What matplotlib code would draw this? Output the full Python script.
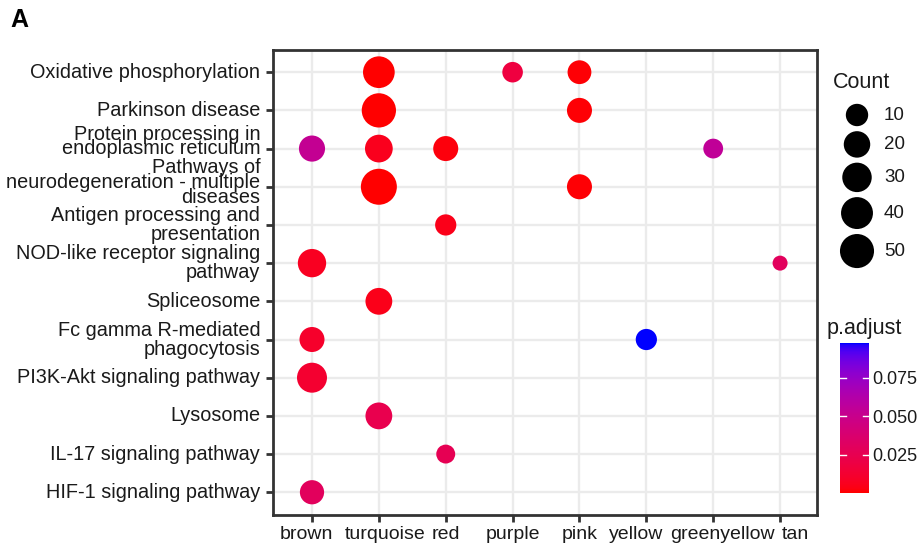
import numpy as np
import matplotlib
matplotlib.use("Agg")
import matplotlib.pyplot as plt
from matplotlib.colors import ListedColormap, Normalize
from matplotlib.transforms import ScaledTranslation

plt.rcParams['font.family'] = ['Liberation Sans', 'DejaVu Sans']

modules = ["brown", "turquoise", "red", "purple", "pink", "yellow",
           "greenyellow", "tan"]
pathways = ["Oxidative phosphorylation",
            "Parkinson disease",
            "Protein processing in\nendoplasmic reticulum",
            "Pathways of\nneurodegeneration - multiple\ndiseases",
            "Antigen processing and\npresentation",
            "NOD-like receptor signaling\npathway",
            "Spliceosome",
            "Fc gamma R-mediated\nphagocytosis",
            "PI3K-Akt signaling pathway",
            "Lysosome",
            "IL-17 signaling pathway",
            "HIF-1 signaling pathway"]

# one entry per dot
pt_pathway = [0, 0, 0, 1, 1, 2, 2, 2, 2, 3, 3, 4, 5, 5, 6, 7, 7, 8, 9, 10, 11]
pt_module = ["turquoise", "purple", "pink", "turquoise", "pink",
             "brown", "turquoise", "red", "greenyellow",
             "turquoise", "pink", "red", "brown", "tan", "turquoise",
             "brown", "yellow", "brown", "turquoise", "red", "brown"]
pt_count = [39, 7, 13, 51, 16, 19, 24, 16, 6, 60, 16, 8, 26, 3, 21,
            16, 8, 32, 21, 5, 14]
pt_padj = [0.0002, 0.018, 0.001, 0.0001, 0.001, 0.053, 0.006, 0.002,
           0.055, 0.00005, 0.001, 0.005, 0.007, 0.030, 0.005,
           0.010, 0.0977, 0.012, 0.024, 0.026, 0.030]

count_breaks = [10, 20, 30, 40, 50]
padj_ticks = [0.025, 0.050, 0.075]


# red -> blue gradient interpolated in Lab, like ggplot
def to_lab(rgb):
    rgb = np.asarray(rgb, float)
    lin = np.where(rgb <= 0.04045, rgb / 12.92, ((rgb + 0.055) / 1.055) ** 2.4)
    m = np.array([[0.4124, 0.3576, 0.1805],
                  [0.2126, 0.7152, 0.0722],
                  [0.0193, 0.1192, 0.9505]])
    xyz = m @ lin / np.array([0.95047, 1.0, 1.08883])
    f = np.where(xyz > 0.008856, np.cbrt(xyz), 7.787 * xyz + 16 / 116)
    return np.array([116 * f[1] - 16, 500 * (f[0] - f[1]), 200 * (f[1] - f[2])])


def from_lab(lab):
    L, a, b = lab
    fy = (L + 16) / 116
    f = np.array([fy + a / 500, fy, fy - b / 200])
    xyz = np.where(f ** 3 > 0.008856, f ** 3, (f - 16 / 116) / 7.787)
    xyz = xyz * np.array([0.95047, 1.0, 1.08883])
    minv = np.array([[3.2406, -1.5372, -0.4986],
                     [-0.9689, 1.8758, 0.0415],
                     [0.0557, -0.2040, 1.0570]])
    lin = minv @ xyz
    rgb = np.where(lin <= 0.0031308, 12.92 * lin,
                   1.055 * np.clip(lin, 0, None) ** (1 / 2.4) - 0.055)
    return np.clip(rgb, 0, 1)


lo, hi = to_lab([1, 0, 0]), to_lab([0, 0, 1])
cmap = ListedColormap([from_lab(lo + (hi - lo) * t) for t in np.linspace(0, 1, 256)])
norm = Normalize(min(pt_padj), max(pt_padj))

cmin, cmax = min(pt_count), max(pt_count)


def diam(c):
    # dot diameter in pixels (area scale like ggplot)
    return 15 + 21 * np.sqrt((np.asarray(c, float) - cmin) / (cmax - cmin))


def dot_size(c):
    return (diam(c) * 0.72) ** 2


def px(dx, dy):
    return ScaledTranslation(dx / 100, dy / 100, fig.dpi_scale_trans)


W, H = 923, 544
fig = plt.figure(figsize=(W / 100, H / 100), dpi=100)
ax = fig.add_axes([0.296, 0.053, 0.589, 0.855])

xs = [modules.index(m) for m in pt_module]
ax.scatter(xs, pt_pathway, s=dot_size(pt_count), c=pt_padj, cmap=cmap,
           norm=norm, edgecolors='none', zorder=3)

ax.set_xlim(-0.58, 7.55)
ax.set_ylim(len(pathways) - 0.4, -0.58)
ax.set_xticks(range(len(modules)))
ax.set_xticklabels([])
ax.set_yticks(range(len(pathways)))
ax.set_yticklabels([])

# tick labels drawn as text so they can be nudged like in the original
x_shift = {0: -6, 1: 6, 5: -10, 6: 9, 7: 15}
for i, m in enumerate(modules):
    ax.text(i, 0, m, ha='center', va='top', fontsize=14, color='#1a1a1a',
            transform=ax.get_xaxis_transform() + px(x_shift.get(i, 0), -11))
spacing = {2: 0.62, 3: 0.72}
y_shift = {2: 7, 3: 4}
for i, p in enumerate(pathways):
    ax.text(0, i, p, ha='right', va='center', multialignment='right',
            fontsize=14.3, color='#1a1a1a', linespacing=spacing.get(i, 1.0),
            transform=ax.get_yaxis_transform() + px(-13, y_shift.get(i, 0)))

ax.grid(True, color='#ebebeb', linewidth=1.7, zorder=0)
ax.set_axisbelow(True)
for sp in ax.spines.values():
    sp.set_color('#333333')
    sp.set_linewidth(2)
ax.tick_params(length=5, width=2, color='#333333')

fig.text(0.011, 0.95, "A", fontsize=18, fontweight='bold')

# Count legend, in pixel coordinates
lax = fig.add_axes([820 / W, 1 - 280 / H, 103 / W, 180 / H])
d = diam(count_breaks)
ky = [115.0]
for i in range(1, len(count_breaks)):
    ky.append(ky[-1] + (d[i - 1] + d[i]) / 2 + 5)
lax.scatter([857] * len(count_breaks), ky, s=dot_size(count_breaks),
            c='black', edgecolors='none')
for y, b in zip(ky, count_breaks):
    lax.text(884, y, str(b), va='center', ha='left', fontsize=13.5,
             color='#1a1a1a')
lax.set_xlim(820, 923)
lax.set_ylim(280, 100)
lax.axis('off')
fig.text(833 / W, 1 - 88 / H, "Count", fontsize=15.5, color='#1a1a1a')

# p.adjust colour bar
cax = fig.add_axes([840 / W, 1 - 493 / H, 29 / W, 150 / H])
sm = plt.cm.ScalarMappable(norm=norm, cmap=cmap)
cb = fig.colorbar(sm, cax=cax, ticks=padj_ticks)
cb.outline.set_visible(False)
cb.ax.set_yticklabels(["%.3f" % t for t in padj_ticks], fontsize=13,
                      color='#1a1a1a')
cb.ax.tick_params(length=0, pad=2)
for t in padj_ticks:
    cax.plot([0, 0.2], [t, t], color='white', lw=1, transform=cax.get_yaxis_transform())
    cax.plot([0.8, 1], [t, t], color='white', lw=1, transform=cax.get_yaxis_transform())
fig.text(827 / W, 1 - 334 / H, "p.adjust", fontsize=15.5, color='#1a1a1a')

fig.savefig("out.png", dpi=100)
